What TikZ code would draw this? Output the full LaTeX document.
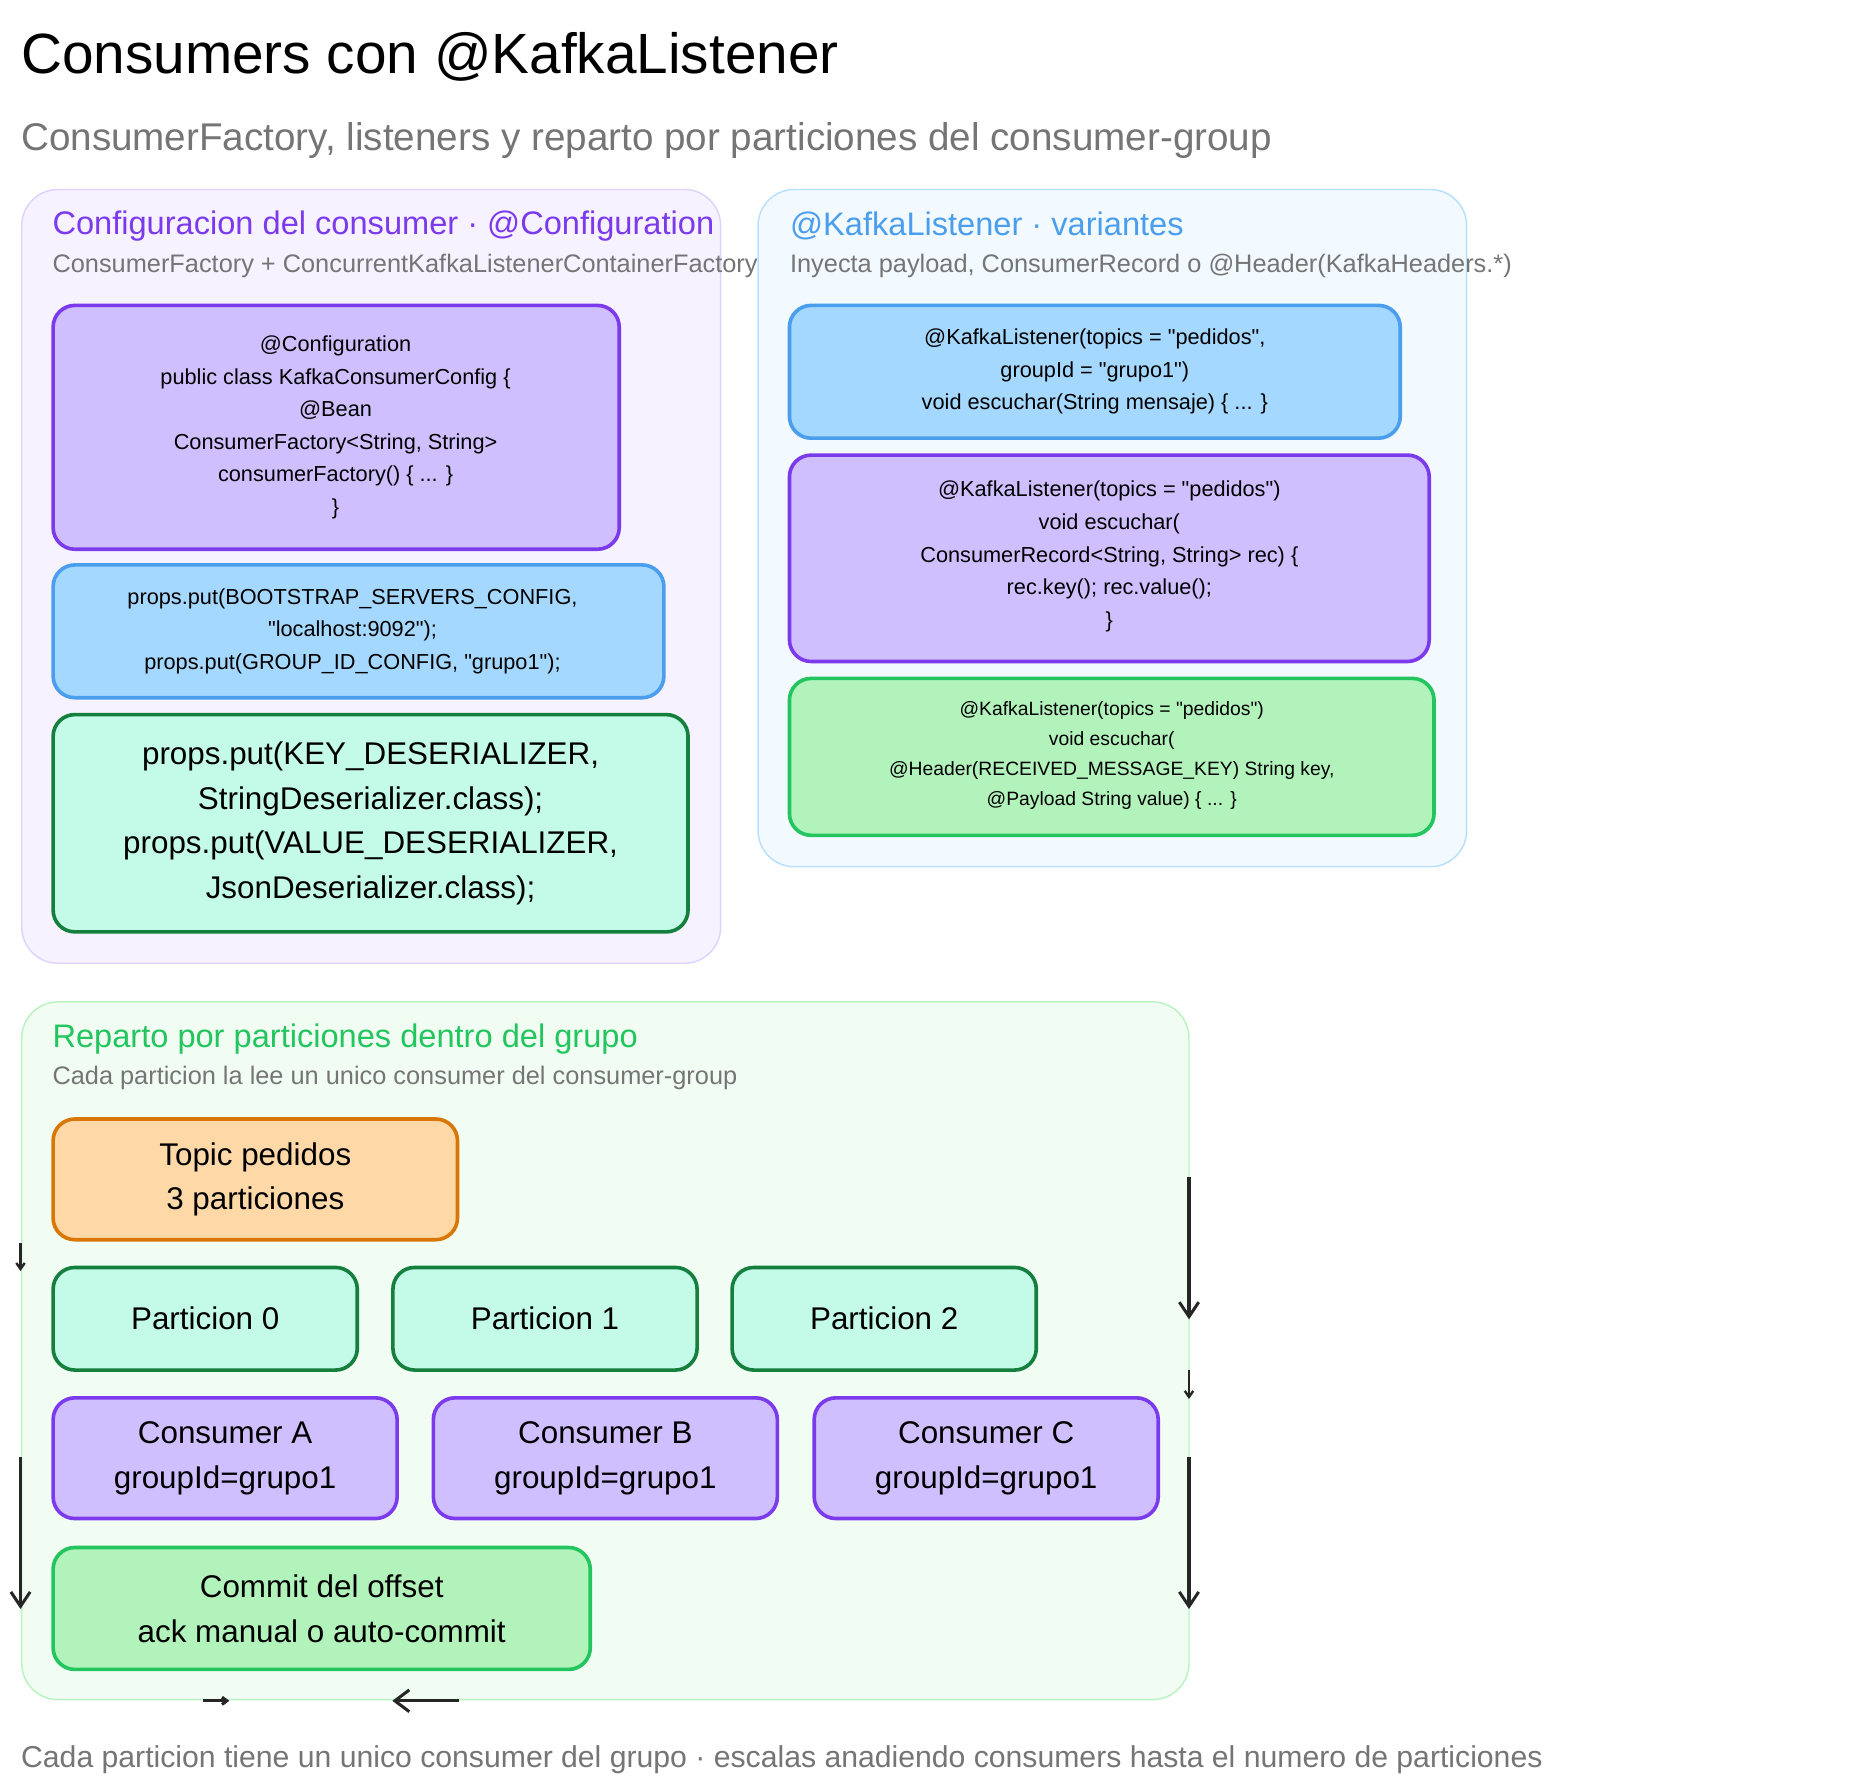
\documentclass[tikz,border=0pt]{standalone}
\usepackage{fontspec}
\setmainfont{Liberation Sans}[Ligatures=TeXOff]
\usetikzlibrary{arrows.meta}
\definecolor{pfill}{HTML}{D0BFFF}\definecolor{pstroke}{HTML}{7C3AED}
\definecolor{bfill}{HTML}{A5D8FF}\definecolor{bstroke}{HTML}{4A9EED}
\definecolor{tfill}{HTML}{C3FAE8}\definecolor{tstroke}{HTML}{15803D}
\definecolor{gfill}{HTML}{B2F2BB}\definecolor{gstroke}{HTML}{22C55E}
\definecolor{ofill}{HTML}{FFD8A8}\definecolor{ostroke}{HTML}{D97706}
\definecolor{graytxt}{HTML}{757575}
\newcommand{\qq}{"}
\tikzset{
 box/.style={draw, line width=3pt, rounded corners=18pt, align=center, inner sep=0pt},
 panel/.style={draw, line width=1.2pt, rounded corners=30pt},
 ptitle/.style={anchor=west, font=\fontsize{27}{30}\selectfont},
 psub/.style={anchor=west, text=graytxt, font=\fontsize{21}{24}\selectfont},
 arr/.style={line width=2.5pt, draw=black!85, -{Straight Barb[length=12pt,width=16pt]}},
 code/.style={font=\fontsize{18}{27}\selectfont, align=center},
}
\begin{document}
\begin{tikzpicture}[x=1pt,y=-1pt]
\useasboundingbox (0,0) rectangle (1550,1474);
\fill[white] (0,0) rectangle (1550,1474);
\node[anchor=west, font=\fontsize{47}{50}\selectfont] (title) at (14,47) {Consumers con @KafkaListener};
\node[anchor=west, text=graytxt, font=\fontsize{32}{36}\selectfont] (sub) at (14,116) {ConsumerFactory, listeners y reparto por particiones del consumer-group};
% panel 1
\draw[panel, fill=pfill!20, draw=pfill!70] (18,157) rectangle (597,798);
\node[ptitle, text=pstroke] (p1t) at (40,187) {Configuracion del consumer · @Configuration};
\node[psub] (p1s) at (40,220) {ConsumerFactory + ConcurrentKafkaListenerContainerFactory};
\draw[box, fill=pfill, draw=pstroke] (44,253) rectangle (513,455);
\node[code] (b1) at (278,354) {@Configuration\\public class KafkaConsumerConfig \{\\@Bean\\ConsumerFactory<String, String>\\consumerFactory() \{ ... \}\\\}};
\draw[box, fill=bfill, draw=bstroke] (44,468) rectangle (550,578);
\node[code] (b2) at (292,523) {props.put(BOOTSTRAP\_SERVERS\_CONFIG,\\\qq localhost:9092\qq);\\props.put(GROUP\_ID\_CONFIG, \qq grupo1\qq);};
\draw[box, fill=tfill, draw=tstroke] (44,592) rectangle (570,772);
\node[font=\fontsize{26}{37}\selectfont, align=center] (b3) at (307,682) {props.put(KEY\_DESERIALIZER,\\StringDeserializer.class);\\props.put(VALUE\_DESERIALIZER,\\JsonDeserializer.class);};
% panel 2
\draw[panel, fill=bfill!15, draw=bfill!80] (628,157) rectangle (1215,718);
\node[ptitle, text=bstroke] (p2t) at (651,187) {@KafkaListener · variantes};
\node[psub] (p2s) at (651,220) {Inyecta payload, ConsumerRecord o @Header(KafkaHeaders.*)};
\draw[box, fill=bfill, draw=bstroke] (654,253) rectangle (1160,363);
\node[code] (b4) at (907,308) {@KafkaListener(topics = \qq pedidos\qq,\\groupId = \qq grupo1\qq)\\void escuchar(String mensaje) \{ ... \}};
\draw[box, fill=pfill, draw=pstroke] (654,377) rectangle (1184,548);
\node[code] (b5) at (919,461) {@KafkaListener(topics = \qq pedidos\qq)\\void escuchar(\\ConsumerRecord<String, String> rec) \{\\rec.key(); rec.value();\\\}};
\draw[box, fill=gfill, draw=gstroke] (654,562) rectangle (1188,692);
\node[font=\fontsize{16}{25}\selectfont, align=center] (b6) at (921,626) {@KafkaListener(topics = \qq pedidos\qq)\\void escuchar(\\@Header(RECEIVED\_MESSAGE\_KEY) String key,\\@Payload String value) \{ ... \}};
% panel 3
\draw[panel, fill=gfill!18, draw=gfill!90] (18,830) rectangle (985,1408);
\node[ptitle, text=gstroke] (p3t) at (40,861) {Reparto por particiones dentro del grupo};
\node[psub] (p3s) at (40,893) {Cada particion la lee un unico consumer del consumer-group};
\node[box, fill=ofill, draw=ostroke, minimum width=335pt, minimum height=100pt, font=\fontsize{26}{37}\selectfont] (topic) at (211.5,977) {Topic pedidos\\3 particiones};
\foreach \n/\x/\t in {p0/170/Particion 0, p1/451.5/Particion 1, p2/732.5/Particion 2}
  \node[box, fill=tfill, draw=tstroke, minimum width=252pt, minimum height=85pt, font=\fontsize{26}{30}\selectfont] (\n) at (\x,1092.5) {\t};
\foreach \n/\x/\t in {ca/186.5/A, cb/501.5/B, cc/817/C}
  \node[box, fill=pfill, draw=pstroke, minimum width=285pt, minimum height=100pt, font=\fontsize{26}{37}\selectfont] (\n) at (\x,1208) {Consumer \t\\groupId=grupo1};
\node[box, fill=gfill, draw=gstroke, minimum width=445pt, minimum height=101pt, font=\fontsize{26}{37}\selectfont] (commit) at (266.5,1332.5) {Commit del offset\\ack manual o auto-commit};
% stray arrows
\coordinate (a1s) at (17,1030); \coordinate (a1e) at (17,1053);
\coordinate (a2s) at (17,1207); \coordinate (a2e) at (17,1333);
\coordinate (a3s) at (985,975); \coordinate (a3e) at (985,1093);
\coordinate (a4s) at (985,1135); \coordinate (a4e) at (985,1159);
\coordinate (a5s) at (985,1207); \coordinate (a5e) at (985,1333);
\coordinate (a6s) at (168,1409); \coordinate (a6e) at (190,1409);
\coordinate (a7s) at (380,1409); \coordinate (a7e) at (325,1409);
\draw[arr, -{Straight Barb[length=5pt,width=7pt]}, line width=2pt] (a1s) -- (a1e);
\draw[arr] (a2s) -- (a2e);
\draw[arr] (a3s) -- (a3e);
\draw[arr, -{Straight Barb[length=5pt,width=7pt]}, line width=2pt] (a4s) -- (a4e);
\draw[arr] (a5s) -- (a5e);
\draw[arr, -{Straight Barb[length=4pt,width=6pt]}] (a6s) -- (a6e);
\draw[arr, -{Straight Barb[length=12pt,width=18pt]}] (a7s) -- (a7e);
\node[anchor=west, text=graytxt, font=\fontsize{25}{28}\selectfont] (foot) at (14,1458) {Cada particion tiene un unico consumer del grupo · escalas anadiendo consumers hasta el numero de particiones};
\end{tikzpicture}
\end{document}
